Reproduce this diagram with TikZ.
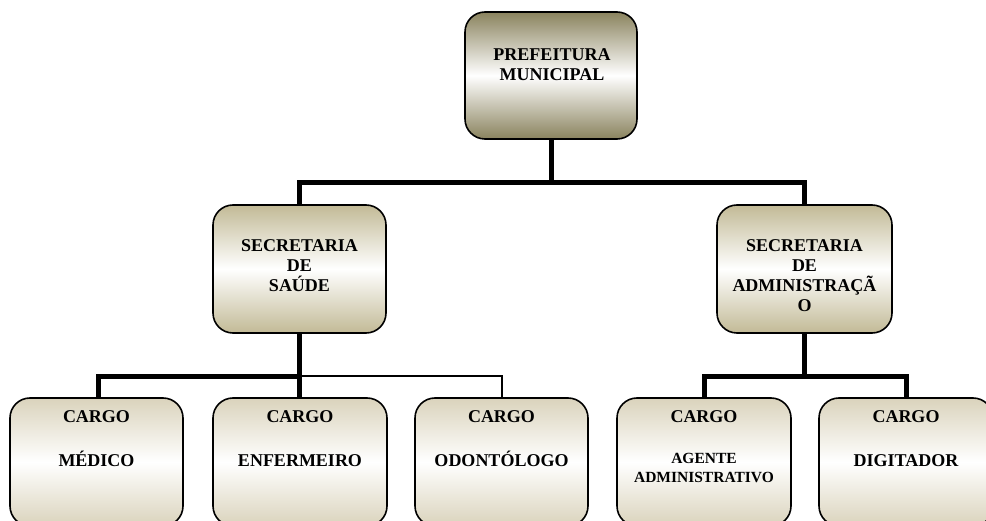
\documentclass[tikz,border=0pt]{standalone}
\usepackage{fontspec}
\setmainfont{Liberation Serif}
\pgfdeclarelayer{background}
\pgfsetlayers{background,main}
\definecolor{topdark}{RGB}{138,131,94}
\definecolor{secdark}{RGB}{194,186,150}
\definecolor{botdark}{RGB}{218,211,188}
\tikzset{
  orgbox/.style={draw=black, line width=1.6pt, rounded corners=20pt, inner sep=0pt,
     middle color=white},
  topbox/.style={orgbox, top color=topdark, bottom color=topdark, middle color=white},
  secbox/.style={orgbox, top color=secdark, bottom color=secdark, middle color=white},
  botbox/.style={orgbox, top color=botdark, bottom color=botdark, middle color=white,
     minimum height=128pt},
  lbl/.style={inner sep=0pt, align=center, font=\bfseries\fontsize{18}{20}\selectfont},
  smalllbl/.style={inner sep=0pt, align=center, font=\bfseries\fontsize{15.5}{19}\selectfont},
  thickline/.style={line width=5pt, draw=black},
  thinline/.style={line width=1.3pt, draw=black}
}
\begin{document}
\begin{tikzpicture}[x=1pt,y=-1pt]
\useasboundingbox (0,0) rectangle (986,521);
\clip (0,0) rectangle (986,521);
% boxes
\node[topbox, minimum width=172pt, minimum height=127pt] (top) at (551,75.5) {};
\node[secbox, minimum width=173pt, minimum height=128pt] (saude) at (299.5,269) {};
\node[secbox, minimum width=175pt, minimum height=128pt] (admin) at (804.5,269) {};
\node[botbox, minimum width=173pt] (b1) at (96.5,462) {};
\node[botbox, minimum width=174pt] (b2) at (300,462) {};
\node[botbox, minimum width=173pt] (b3) at (501.5,462) {};
\node[botbox, minimum width=174pt] (b4) at (704,462) {};
\node[botbox, minimum width=174pt] (b5) at (906,462) {};
% texts
\node[lbl, anchor=north] (ttop) at (552,48) {PREFEITURA\\MUNICIPAL};
\node[lbl, anchor=north] (tsaude) at (299.5,239) {SECRETARIA\\DE\\SAÚDE};
\node[lbl, anchor=north] (tadmin) at (804.5,239) {SECRETARIA\\DE\\ADMINISTRAÇÃ\\O};
\node[lbl, anchor=base] (c1) at (96.5,423) {CARGO};
\node[lbl, anchor=base] (c2) at (300,423) {CARGO};
\node[lbl, anchor=base] (c3) at (501.5,423) {CARGO};
\node[lbl, anchor=base] (c4) at (704,423) {CARGO};
\node[lbl, anchor=base] (c5) at (906,423) {CARGO};
\node[lbl, anchor=base] (r1) at (96.5,467) {MÉDICO};
\node[lbl, anchor=base] (r2) at (300,466) {ENFERMEIRO};
\node[lbl, anchor=base] (r3) at (501.5,466) {ODONTÓLOGO};
\node[smalllbl, anchor=north] (r4) at (704,452.7) {AGENTE\\ADMINISTRATIVO};
\node[lbl, anchor=base] (r5) at (906,466) {DIGITADOR};
% junction coordinates
\coordinate (j0) at (552,183);
\coordinate (j1) at (98,377);
\coordinate (j1t) at (502,376);
\coordinate (j2) at (805,377);
\begin{pgfonlayer}{background}
\draw[thickline] (top.south) -- (top.south |- j0);
\draw[thickline] (saude.north) -- (saude.north |- j0) -- (admin.north |- j0) -- (admin.north);
\draw[thinline] (saude.south |- j1t) -- (j1t) -- (b3.north -| j1t);
\draw[thickline] (saude.south) -- (b2.north -| saude.south);
\draw[thickline] (b1.north -| j1) -- (j1) -- (saude.south |- j1);
\draw[thickline] (admin.south) -- (admin.south |- j2);
\draw[thickline] (b4.north) -- (b4.north |- j2) -- (b5.north |- j2) -- (b5.north);
\end{pgfonlayer}
\end{tikzpicture}
\end{document}
